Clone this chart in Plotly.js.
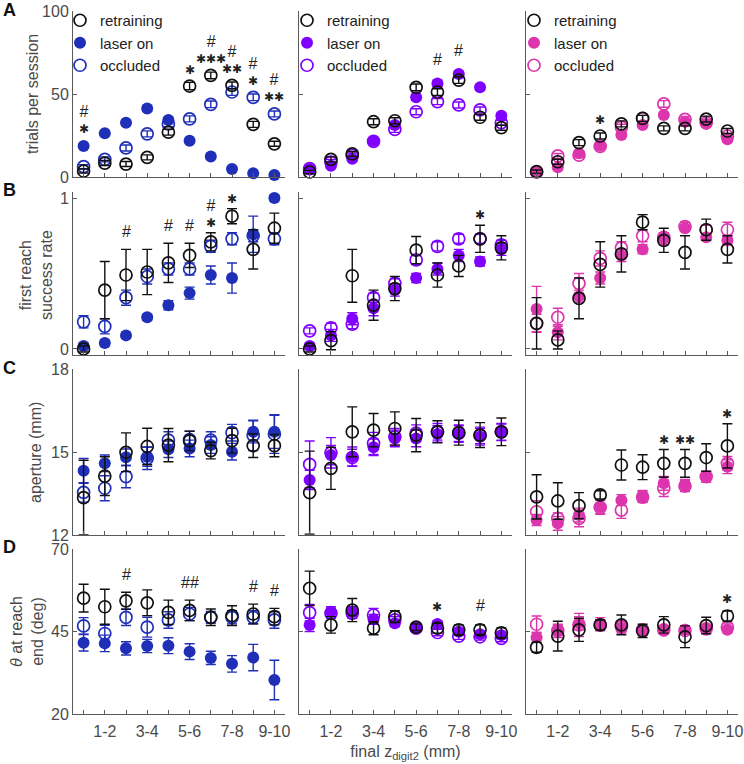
<!DOCTYPE html>
<html>
<head>
<meta charset="utf-8">
<script src="https://cdn.plot.ly/plotly-3.0.1.min.js"></script>
<style>html,body{margin:0;padding:0;background:#fff;}</style>
</head>
<body>
<div id="chart" style="width:744px;height:764px;"></div>
<script>
// ---------------- DATA ----------------
const xPositions = [1, 2, 3, 4, 5, 6, 7, 8, 9, 10];
const xTickPositions = [2, 4, 6, 8, 10];
const xTickLabels = ['1-2', '3-4', '5-6', '7-8', '9-10'];
const seriesNames = ['retraining', 'laser on', 'occluded'];
const panelLetters = ['A', 'B', 'C', 'D'];
const rowTitles = ['trials per session', 'first reach<br>success rate', 'aperture (mm)', '<i>θ</i> at reach<br>end (deg)'];
const xTitle = 'final z<sub>digit2</sub> (mm)';

// Row A: trials per session (one inner array per column)
const trialsRetraining = [
  [3.6, 8.4, 7.8, 11.8, 27.0, 54.8, 61.2, 55.2, 31.7, 20.0],
  [3.0, 10.6, 13.9, 33.3, 33.9, 54.0, 51.2, 58.4, 36.0, 29.7],
  [3.2, 9.2, 20.7, 24.7, 32.0, 35.3, 29.3, 29.3, 34.9, 27.7]];
const trialsRetrainingErr = [
  [1.2, 1.5, 1.5, 1.5, 1.8, 2.2, 2.0, 2.0, 1.8, 1.5],
  [1.0, 1.5, 1.5, 1.8, 1.8, 2.0, 2.0, 2.0, 1.8, 1.5],
  [1.0, 1.5, 1.8, 1.8, 1.8, 1.8, 1.5, 1.5, 1.8, 1.5]];
const trialsLaser = [
  [18.7, 26.3, 32.7, 41.2, 34.3, 21.9, 12.4, 4.8, 2.2, 1.2],
  [4.6, 6.8, 11.0, 21.9, 31.3, 48.0, 56.4, 62.0, 54.0, 36.9],
  [3.2, 5.8, 14.3, 18.9, 25.3, 31.3, 37.3, 33.3, 32.0, 22.7]];
const trialsLaserErr = [
  [1.2, 1.2, 1.5, 1.5, 1.5, 1.2, 1.0, 0.8, 0.5, 0.4],
  [1.0, 1.2, 1.5, 1.5, 1.5, 1.8, 1.8, 1.8, 1.5, 1.5],
  [0.8, 1.2, 1.5, 1.5, 1.5, 1.5, 1.5, 1.5, 1.5, 1.5]];
const trialsOccluded = [
  [6.2, 10.6, 17.5, 26.0, 32.0, 35.0, 43.8, 51.2, 48.0, 38.0],
  [5.0, 9.0, 13.0, 21.5, 28.7, 39.3, 45.4, 43.4, 40.4, 32.7],
  [3.0, 12.7, 13.2, 18.5, 30.0, 35.3, 44.0, 34.7, 32.7, 24.7]];
const trialsOccludedErr = [
  [1.2, 1.5, 1.8, 1.8, 1.8, 1.8, 2.0, 2.0, 2.0, 1.8],
  [1.0, 1.5, 1.5, 1.8, 1.8, 1.8, 1.8, 1.8, 1.8, 1.5],
  [1.0, 1.5, 1.5, 1.5, 1.8, 1.8, 2.0, 1.8, 1.8, 1.5]];

// Row B: first reach success rate
const successRetraining = [
  [0.00, 0.39, 0.49, 0.51, 0.57, 0.62, 0.71, 0.88, 0.66, 0.80],
  [0.00, 0.055, 0.485, 0.29, 0.40, 0.655, 0.49, 0.55, 0.73, 0.67],
  [0.17, 0.06, 0.335, 0.56, 0.63, 0.84, 0.72, 0.64, 0.79, 0.66]];
const successRetrainingErr = [
  [0.02, 0.19, 0.17, 0.15, 0.13, 0.08, 0.06, 0.05, 0.13, 0.10],
  [0.02, 0.06, 0.175, 0.10, 0.08, 0.09, 0.08, 0.07, 0.09, 0.08],
  [0.17, 0.06, 0.135, 0.15, 0.12, 0.05, 0.08, 0.11, 0.07, 0.09]];
const successLaser = [
  [0.02, 0.04, 0.09, 0.21, 0.29, 0.37, 0.49, 0.47, 0.76, 1.00],
  [0.02, 0.09, 0.20, 0.27, 0.39, 0.47, 0.53, 0.62, 0.58, 0.66],
  [0.265, 0.11, 0.35, 0.47, 0.62, 0.66, 0.73, 0.80, 0.74, 0.72]];
const successLaserErr = [
  [0.02, 0.02, 0.02, 0.02, 0.03, 0.04, 0.06, 0.10, 0.12, 0.02],
  [0.02, 0.04, 0.04, 0.05, 0.04, 0.03, 0.04, 0.04, 0.03, 0.04],
  [0.15, 0.05, 0.04, 0.04, 0.04, 0.03, 0.04, 0.02, 0.02, 0.03]];
const successOccluded = [
  [0.18, 0.15, 0.34, 0.48, 0.53, 0.53, 0.68, 0.73, 0.75, 0.73],
  [0.12, 0.14, 0.165, 0.34, 0.435, 0.59, 0.68, 0.73, 0.73, 0.69],
  [0.17, 0.21, 0.435, 0.60, 0.67, 0.75, 0.74, 0.81, 0.79, 0.79]];
const successOccludedErr = [
  [0.04, 0.05, 0.05, 0.05, 0.04, 0.04, 0.04, 0.04, 0.04, 0.04],
  [0.02, 0.03, 0.03, 0.03, 0.03, 0.03, 0.03, 0.03, 0.03, 0.03],
  [0.06, 0.06, 0.065, 0.05, 0.04, 0.04, 0.03, 0.03, 0.03, 0.05]];

// Row C: aperture (mm)
const apertureRetraining = [
  [13.35, 14.13, 14.99, 15.2, 15.25, 15.4, 15.05, 15.41, 15.23, 15.23],
  [13.53, 14.41, 15.73, 15.79, 15.85, 15.61, 15.73, 15.7, 15.61, 15.73],
  [13.38, 13.23, 13.06, 13.45, 14.53, 14.45, 14.59, 14.59, 14.8, 15.22]];
const apertureRetrainingErr = [
  [1.35, 0.7, 0.7, 0.66, 0.6, 0.35, 0.3, 0.45, 0.43, 0.4],
  [1.5, 0.76, 0.9, 0.6, 0.6, 0.6, 0.4, 0.45, 0.45, 0.5],
  [0.8, 0.66, 0.47, 0.15, 0.54, 0.45, 0.5, 0.5, 0.5, 0.8]];
const apertureLaser = [
  [14.32, 14.59, 14.81, 14.83, 15.1, 15.13, 15.25, 15.01, 15.73, 15.73],
  [13.99, 14.89, 14.83, 15.17, 15.49, 15.49, 15.65, 15.65, 15.55, 15.71],
  [12.54, 12.42, 12.72, 13.02, 13.26, 13.41, 13.87, 13.81, 14.11, 14.47]];
const apertureLaserErr = [
  [0.45, 0.3, 0.3, 0.35, 0.3, 0.3, 0.3, 0.3, 0.4, 0.6],
  [0.35, 0.35, 0.35, 0.3, 0.3, 0.3, 0.3, 0.3, 0.3, 0.3],
  [0.2, 0.25, 0.25, 0.25, 0.2, 0.2, 0.25, 0.2, 0.2, 0.25]];
const apertureOccluded = [
  [13.54, 13.69, 14.11, 14.77, 15.43, 15.45, 15.43, 15.7, 15.6, 15.65],
  [14.55, 14.97, 14.8, 15.31, 15.55, 15.68, 15.73, 15.68, 15.6, 15.73],
  [12.84, 12.6, 12.6, 13.0, 12.9, 13.37, 13.69, 13.77, 14.11, 14.59]];
const apertureOccludedErr = [
  [0.35, 0.45, 0.4, 0.4, 0.3, 0.3, 0.3, 0.3, 0.55, 0.7],
  [0.85, 0.55, 0.3, 0.4, 0.3, 0.3, 0.3, 0.3, 0.3, 0.3],
  [0.4, 0.2, 0.3, 0.25, 0.3, 0.2, 0.3, 0.2, 0.2, 0.25]];

// Row D: theta at reach end (deg)
const thetaRetraining = [
  [55.1, 52.5, 54.3, 53.7, 50.8, 51.4, 49.3, 49.8, 50.3, 49.5],
  [58.1, 47.0, 51.5, 46.0, 49.5, 46.3, 46.0, 45.5, 45.5, 44.6],
  [40.2, 43.6, 45.5, 47.0, 47.0, 45.2, 47.0, 43.4, 46.8, 49.7]];
const thetaRetrainingErr = [
  [4.2, 5.3, 2.6, 3.9, 3.7, 3.1, 2.5, 3.0, 3.0, 2.5],
  [5.2, 2.5, 3.5, 2.0, 1.8, 1.0, 1.5, 1.5, 1.5, 1.5],
  [1.5, 4.5, 3.5, 1.5, 3.0, 2.0, 2.5, 3.3, 2.5, 1.5]];
const thetaLaser = [
  [41.6, 41.4, 39.9, 40.6, 40.7, 38.9, 37.0, 35.2, 37.1, 30.3],
  [47.0, 51.0, 51.0, 48.7, 47.5, 46.0, 47.3, 44.9, 44.2, 43.9],
  [43.2, 45.2, 47.5, 47.2, 46.0, 45.5, 45.3, 45.5, 45.8, 45.5]];
const thetaLaserErr = [
  [2.5, 2.5, 2.0, 2.0, 2.4, 2.4, 2.0, 2.5, 4.0, 6.0],
  [2.0, 1.5, 1.5, 1.5, 1.0, 1.0, 1.0, 1.0, 1.0, 1.0],
  [1.5, 2.0, 2.0, 2.0, 1.5, 1.0, 1.0, 1.0, 1.0, 1.0]];
const thetaOccluded = [
  [46.7, 44.4, 49.3, 46.3, 48.5, 50.3, 49.3, 49.3, 49.3, 48.5],
  [50.7, 50.5, 50.5, 50.0, 48.5, 46.0, 44.7, 43.6, 43.4, 42.9],
  [47.2, 45.3, 47.0, 47.0, 46.5, 45.5, 45.5, 45.3, 45.8, 46.3]];
const thetaOccludedErr = [
  [2.5, 2.5, 2.5, 3.0, 2.5, 2.0, 1.8, 2.0, 2.0, 2.5],
  [2.5, 1.5, 1.5, 2.0, 1.0, 1.0, 1.0, 1.0, 1.0, 1.0],
  [2.5, 1.5, 3.5, 1.5, 1.5, 1.0, 1.0, 1.0, 1.0, 1.0]];

// significance marks: [row, column, x position, number of stars, number of hashes]
const sigMarks = [
  [0, 0, 1, 1, 1], [0, 0, 6, 1, 0], [0, 0, 7, 3, 1], [0, 0, 8, 2, 1], [0, 0, 9, 1, 1], [0, 0, 10, 2, 1],
  [0, 1, 7, 0, 1], [0, 1, 8, 0, 1],
  [0, 2, 4, 1, 0],
  [1, 0, 3, 0, 1], [1, 0, 5, 0, 1], [1, 0, 6, 0, 1], [1, 0, 7, 1, 1], [1, 0, 8, 1, 0], [1, 0, 10, 0, 1],
  [1, 1, 9, 1, 0],
  [2, 2, 7, 1, 0], [2, 2, 8, 2, 0], [2, 2, 10, 1, 0],
  [3, 0, 3, 0, 1], [3, 0, 6, 0, 2], [3, 0, 9, 0, 1], [3, 0, 10, 0, 1],
  [3, 1, 7, 1, 0], [3, 1, 9, 0, 1],
  [3, 2, 10, 1, 0]];

// ---------------- STYLE / LAYOUT ----------------
const W = 744, H = 764;
const laserColors = ['#1f2fb8', '#8000ff', '#dc35ad'];
const retrainColor = '#111111';
const axisColor = '#5a5a5a';
const textGrey = '#4a4a4a';
const FONT = 'Liberation Sans, Arial, Helvetica, sans-serif';
const STAR_FONT = 'DejaVu Sans, sans-serif';
const colPx = [[73, 285], [299, 512], [526, 738]];
const rowPx = [[11, 177], [192, 355], [369, 535], [549, 714]];
const rowRanges = [[0, 100], [-0.04, 1.04], [12, 18], [20, 70]];
const rowTicks = [[0, 50, 100], [0, 1], [12, 15, 18], [20, 45, 70]];

const rowSeries = [
  [trialsRetraining, trialsRetrainingErr, trialsLaser, trialsLaserErr, trialsOccluded, trialsOccludedErr],
  [successRetraining, successRetrainingErr, successLaser, successLaserErr, successOccluded, successOccludedErr],
  [apertureRetraining, apertureRetrainingErr, apertureLaser, apertureLaserErr, apertureOccluded, apertureOccludedErr],
  [thetaRetraining, thetaRetrainingErr, thetaLaser, thetaLaserErr, thetaOccluded, thetaOccludedErr]];

const legendIds = ['legend', 'legend2', 'legend3'];
const traces = [];
const layout = {
  width: W, height: H,
  margin: {l: 0, r: 0, t: 0, b: 0, pad: 0},
  paper_bgcolor: '#ffffff', plot_bgcolor: 'rgba(0,0,0,0)',
  font: {family: FONT, size: 16, color: textGrey},
  annotations: [],
  showlegend: true
};

function axKey(k) { return k === 1 ? '' : String(k); }

for (let r = 0; r < 4; r++) {
  const [ret, retErr, las, lasErr, occ, occErr] = rowSeries[r];
  for (let c = 0; c < 3; c++) {
    const k = r * 3 + c + 1;
    const xa = 'x' + axKey(k), ya = 'y' + axKey(k);
    const col = laserColors[c];
    const common = {type: 'scatter', mode: 'markers', x: xPositions, xaxis: xa, yaxis: ya,
      cliponaxis: false, hoverinfo: 'skip', showlegend: r === 0, legend: legendIds[c]};
    traces.push(Object.assign({}, common, {
      name: seriesNames[1], legendrank: 2, y: las[c],
      error_y: {type: 'data', array: lasErr[c], color: col, thickness: 1.4, width: 5},
      marker: {symbol: 'circle', size: 12, color: col, line: {width: 0}}
    }));
    traces.push(Object.assign({}, common, {
      name: seriesNames[2], legendrank: 3, y: occ[c],
      error_y: {type: 'data', array: occErr[c], color: col, thickness: 1.4, width: 5},
      marker: {symbol: 'circle-open', size: 12, color: col, line: {width: 1.7}}
    }));
    traces.push(Object.assign({}, common, {
      name: seriesNames[0], legendrank: 1, y: ret[c],
      error_y: {type: 'data', array: retErr[c], color: retrainColor, thickness: 1.4, width: 5},
      marker: {symbol: 'circle-open', size: 12, color: retrainColor, line: {width: 1.7}}
    }));

    layout['xaxis' + axKey(k)] = {
      domain: [colPx[c][0] / W, colPx[c][1] / W], anchor: ya,
      range: [0.5, 10.5], tickmode: 'array', tickvals: xTickPositions, ticktext: xTickLabels,
      showticklabels: r === 3, ticks: 'inside', ticklen: 4, tickwidth: 1, tickcolor: axisColor,
      ticklabelstandoff: 3,
      minor: {tickmode: 'array', tickvals: xPositions, ticks: 'inside', ticklen: 4, tickwidth: 1, tickcolor: axisColor, showgrid: false},
      showline: true, linecolor: axisColor, linewidth: 1, showgrid: false, zeroline: false,
      tickfont: {size: 16, color: textGrey, family: FONT}, fixedrange: true
    };
    layout['yaxis' + axKey(k)] = {
      domain: [1 - rowPx[r][1] / H, 1 - rowPx[r][0] / H], anchor: xa,
      range: rowRanges[r], tickmode: 'array', tickvals: rowTicks[r],
      showticklabels: c === 0, ticks: 'inside', ticklen: 4, tickwidth: 1, tickcolor: axisColor,
      showline: true, linecolor: axisColor, linewidth: 1, showgrid: false, zeroline: false,
      tickfont: {size: 16, color: textGrey, family: FONT}, fixedrange: true
    };
  }
}
layout.xaxis11.title = {text: xTitle, font: {size: 16, color: textGrey, family: FONT}, standoff: 6};

// legends
const legendLeft = [60, 287, 514];
legendIds.forEach((id, c) => {
  layout[id] = {x: legendLeft[c] / W, y: 1 - 4 / H, xanchor: 'left', yanchor: 'top',
    bgcolor: 'rgba(0,0,0,0)', borderwidth: 0, font: {size: 15, color: '#222', family: FONT},
    tracegroupgap: 0, itemclick: false, itemdoubleclick: false};
});

// panel letters and y titles
const letterY = [10, 190, 368, 547];
const titleX = [32, 36, 36, 27];
const titleY = [94, 275, 453, 632];
for (let r = 0; r < 4; r++) {
  layout.annotations.push({xref: 'paper', yref: 'paper', x: 1 / W, y: 1 - letterY[r] / H,
    xanchor: 'left', yanchor: 'middle', showarrow: false, text: '<b>' + panelLetters[r] + '</b>',
    font: {size: 18, color: '#111', family: FONT}});
  layout.annotations.push({xref: 'paper', yref: 'paper', x: titleX[r] / W, y: 1 - titleY[r] / H,
    xanchor: 'center', yanchor: 'middle', showarrow: false, textangle: -90, text: rowTitles[r],
    font: {size: 16, color: textGrey, family: FONT}});
}

// significance marks placed above the highest mark at that x (hash line above star line)
sigMarks.forEach(([r, c, xp, nStar, nHash]) => {
  const k = r * 3 + c + 1;
  const [ret, retErr, las, lasErr, occ, occErr] = rowSeries[r];
  const i = xp - 1;
  const span = rowRanges[r][1] - rowRanges[r][0];
  const rad = 6.5 * span / (rowPx[r][1] - rowPx[r][0]);
  const top = Math.max(
    ret[c][i] + Math.max(retErr[c][i], rad),
    las[c][i] + Math.max(lasErr[c][i], rad),
    occ[c][i] + Math.max(occErr[c][i], rad));
  const hashHtml = '<span style="font-family:Liberation Sans, Arial;font-size:16px">' + '#'.repeat(nHash) + '</span>';
  let text, shift;
  if (nStar > 0 && nHash > 0) { text = hashHtml + '<br>' + '✱'.repeat(nStar); shift = 1; }
  else if (nStar > 0) { text = '✱'.repeat(nStar); shift = 1; }
  else { text = hashHtml; shift = 7; }
  layout.annotations.push({xref: 'x' + axKey(k), yref: 'y' + axKey(k), x: xp, y: top,
    showarrow: false, xanchor: 'center', yanchor: 'bottom', yshift: shift, text: text,
    font: {size: 12, color: '#222', family: STAR_FONT}});
});

Plotly.newPlot('chart', traces, layout, {displayModeBar: false, staticPlot: true});
</script>
</body>
</html>
